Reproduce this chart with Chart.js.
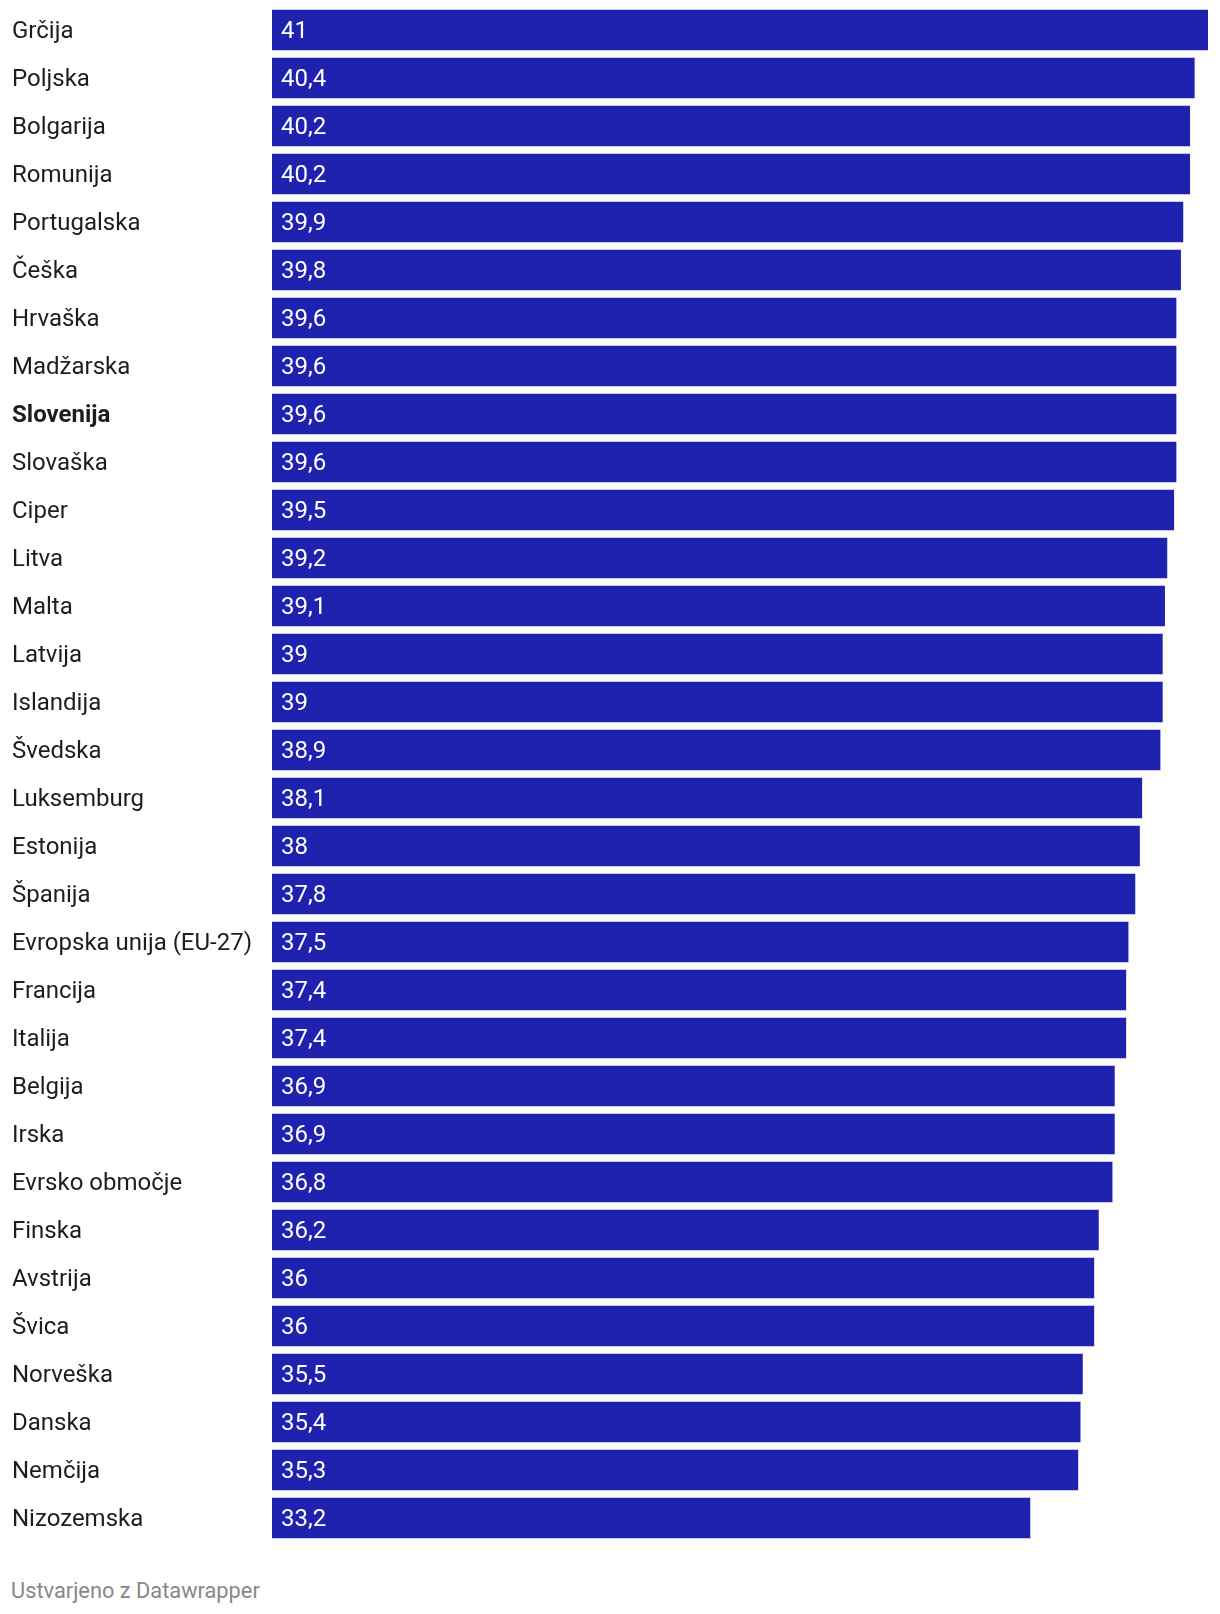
<!DOCTYPE html>
<html>
<head>
<meta charset="utf-8">
<script src="https://cdn.jsdelivr.net/npm/chart.js@4"></script>
<style>
  html, body { margin: 0; padding: 0; background: #fff; }
  #wrap { position: absolute; left: 0; top: 0; width: 1220px; height: 1550px; }
  #footer {
    position: absolute; left: 11px; top: 1578px;
    font-family: Roboto, sans-serif; font-size: 21.8px; color: #888;
  }
</style>
</head>
<body>
<div id="wrap"><canvas id="chart"></canvas></div>
<div id="footer">Ustvarjeno z Datawrapper</div>
<script>
// ── data ──
const countries = [
  'Grčija', 'Poljska', 'Bolgarija', 'Romunija', 'Portugalska', 'Češka', 'Hrvaška',
  'Madžarska', 'Slovenija', 'Slovaška', 'Ciper', 'Litva', 'Malta', 'Latvija',
  'Islandija', 'Švedska', 'Luksemburg', 'Estonija', 'Španija', 'Evropska unija (EU-27)',
  'Francija', 'Italija', 'Belgija', 'Irska', 'Evrsko območje', 'Finska', 'Avstrija',
  'Švica', 'Norveška', 'Danska', 'Nemčija', 'Nizozemska'
];
const values = [
  41, 40.4, 40.2, 40.2, 39.9, 39.8, 39.6,
  39.6, 39.6, 39.6, 39.5, 39.2, 39.1, 39,
  39, 38.9, 38.1, 38, 37.8, 37.5,
  37.4, 37.4, 36.9, 36.9, 36.8, 36.2, 36,
  36, 35.5, 35.4, 35.3, 33.2
];
const highlighted = ['Slovenija'];

const BAR = '#1f22ae';
const FONT = 'Roboto, sans-serif';

const fmt = v => String(v).replace('.', ',');

// value labels inside the bars
const valueLabels = {
  id: 'valueLabels',
  afterDatasetsDraw(chart) {
    const ctx = chart.ctx;
    const meta = chart.getDatasetMeta(0);
    ctx.save();
    ctx.font = '24px ' + FONT;
    ctx.fillStyle = '#fff';
    ctx.textAlign = 'left';
    ctx.textBaseline = 'middle';
    meta.data.forEach((bar, i) => {
      ctx.fillText(fmt(values[i]), bar.base + 9, bar.y + 1.5);
    });
    ctx.restore();
  }
};

new Chart(document.getElementById('chart'), {
  type: 'bar',
  data: {
    labels: countries,
    datasets: [{
      data: values,
      backgroundColor: BAR,
      borderWidth: 0,
      barThickness: 40
    }]
  },
  options: {
    indexAxis: 'y',
    responsive: true,
    maintainAspectRatio: false,
    animation: false,
    layout: { padding: { left: 12, right: 12, top: 6, bottom: 8 } },
    plugins: { legend: { display: false }, tooltip: { enabled: false } },
    scales: {
      x: { display: false, min: 0, max: 41 },
      y: {
        grid: { display: false, drawTicks: false },
        border: { display: false },
        afterFit: s => {
          s.width = 260;
          s.paddingTop = 0;
          s.paddingBottom = 0;
        },
        ticks: {
          crossAlign: 'far',
          padding: 0,
          labelOffset: 1.5,
          color: '#1d1d1d',
          font: c => ({
            family: FONT,
            size: 24,
            weight: highlighted.includes(countries[c.index]) ? 'bold' : 'normal'
          })
        }
      }
    }
  },
  plugins: [valueLabels]
});
</script>
</body>
</html>
